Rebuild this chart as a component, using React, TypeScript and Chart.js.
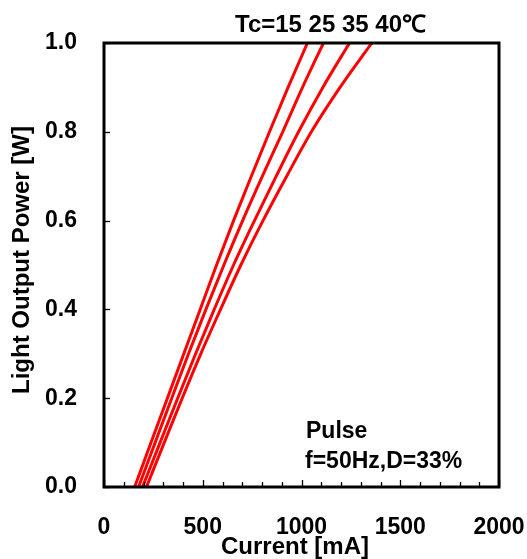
import React, { useEffect, useRef } from "react";
import { Chart, registerables } from "chart.js";

Chart.register(...registerables);

// Light output power levels (W) at which currents were read
const powerLevels = [0, 0.1, 0.2, 0.3, 0.4, 0.5, 0.6, 0.7, 0.8, 0.9, 1.0];
// Current (mA) for each case temperature
const current15 = [155, 238, 321, 404, 487, 570, 656, 746, 838, 932, 1030];
const current25 = [175, 259, 343, 428, 516, 607, 702, 802, 905, 1005, 1111];
const current35 = [195, 284, 373, 464, 558, 656, 762, 872, 985, 1108, 1243];
const current40 = [215, 305, 396, 490, 590, 693, 805, 925, 1050, 1195, 1356];
const seriesNames = ["15", "25", "35", "40"];

const xTitle = "Current [mA]";
const yTitle = "Light Output Power [W]";
const tempLabel = "Tc=15 25 35 40℃";
const noteLine1 = "Pulse";
const noteLine2 = "f=50Hz,D=33%";

const FONT = '"Liberation Sans", Arial, Helvetica, sans-serif';

const framePlugin = {
  id: "frameTicks",
  afterDatasetsDraw(chart: any) {
    const { ctx, chartArea: a, scales } = chart;
    ctx.save();
    ctx.strokeStyle = "#000";
    ctx.lineWidth = 1.3;
    const xs = scales.x;
    xs.ticks.forEach((t: any) => {
      const px = Math.round(xs.getPixelForValue(t.value)) + 0.5;
      const len = t.value % 500 === 0 ? 7 : 5;
      ctx.beginPath();
      ctx.moveTo(px, a.bottom);
      ctx.lineTo(px, a.bottom - len);
      ctx.stroke();
    });
    const ys = scales.y;
    ys.ticks.forEach((t: any) => {
      const py = Math.round(ys.getPixelForValue(t.value)) + 0.5;
      ctx.beginPath();
      ctx.moveTo(a.left, py);
      ctx.lineTo(a.left + 6, py);
      ctx.stroke();
    });
    ctx.lineWidth = 3;
    ctx.strokeRect(a.left, a.top, a.right - a.left, a.bottom - a.top);

    ctx.fillStyle = "#000";
    ctx.font = `bold 24px ${FONT}`;
    ctx.textBaseline = "alphabetic";
    ctx.textAlign = "left";
    ctx.fillText(tempLabel, 235, 32);
    ctx.font = `bold 23px ${FONT}`;
    ctx.fillText(noteLine1, 306, 438);
    ctx.fillText(noteLine2, 305, 468);

    ctx.font = `bold 24px ${FONT}`;
    ctx.textAlign = "center";
    ctx.textBaseline = "middle";
    ctx.fillText(xTitle, 295, 547);
    ctx.translate(22, 260);
    ctx.rotate(-Math.PI / 2);
    ctx.fillText(yTitle, 0, 0);
    ctx.restore();
  },
};

export default function App() {
  const ref = useRef<HTMLCanvasElement | null>(null);

  useEffect(() => {
    if (!ref.current) return;
    const mk = (xs: number[]) => xs.map((x, i) => ({ x, y: powerLevels[i] }));
    const all = [current15, current25, current35, current40];
    const chart = new Chart(ref.current, {
      type: "line",
      data: {
        datasets: all.map((c, i) => ({
          label: seriesNames[i],
          data: mk(c),
          borderColor: "#ff0000",
          borderWidth: 3,
          pointRadius: 0,
          fill: false,
          cubicInterpolationMode: "monotone" as const,
        })),
      },
      options: {
        responsive: false,
        animation: false,
        layout: { padding: { left: 0, top: 43, right: 28, bottom: 0 } },
        plugins: {
          legend: { display: false },
          tooltip: { enabled: false },
        },
        scales: {
          x: {
            type: "linear",
            min: 0,
            max: 2000,
            grid: { display: false, drawTicks: false },
            border: { display: false },
            ticks: {
              stepSize: 100,
              autoSkip: false,
              maxRotation: 0,
              padding: 27,
              color: "#000",
              font: { family: FONT, size: 23, weight: "bold" },
              callback: (v: any) => (Number(v) % 500 === 0 ? String(v) : ""),
            },
            afterFit: (s: any) => {
              s.height = 72;
              s.paddingLeft = 0;
              s.paddingRight = 0;
            },
          },
          y: {
            type: "linear",
            min: 0,
            max: 1,
            grid: { display: false, drawTicks: false },
            border: { display: false },
            ticks: {
              stepSize: 0.2,
              padding: 27,
              color: "#000",
              font: { family: FONT, size: 23, weight: "bold" },
              callback: (v: any) => Number(v).toFixed(1),
            },
            afterFit: (s: any) => {
              s.width = 104;
              s.paddingTop = 0;
              s.paddingBottom = 0;
            },
          },
        },
      },
      plugins: [framePlugin],
    });
    return () => chart.destroy();
  }, []);

  return (
    <div style={{ position: "fixed", left: 0, top: 0, width: 527, height: 559, background: "#fff" }}>
      <canvas ref={ref} width={527} height={559} style={{ width: 527, height: 559, display: "block" }} />
    </div>
  );
}
